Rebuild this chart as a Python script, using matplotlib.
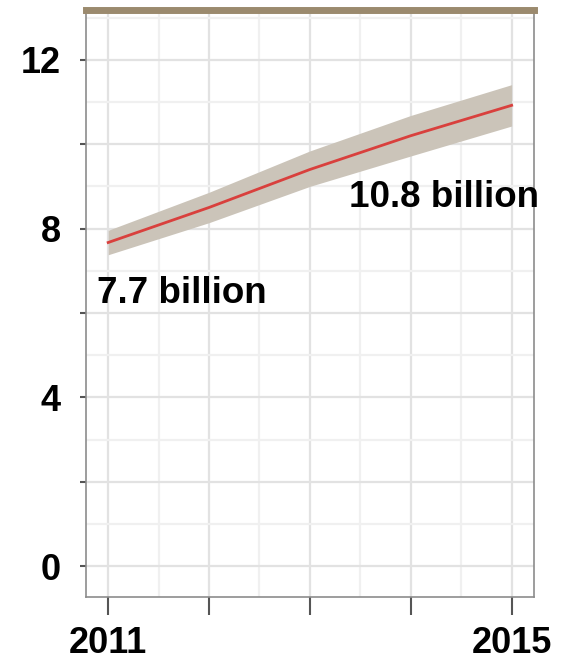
import matplotlib.pyplot as plt
import numpy as np

years = [2011, 2012, 2013, 2014, 2015]
pop_mid = [7.67, 8.5, 9.4, 10.2, 10.92]
pop_low = [7.38, 8.14, 9.0, 9.72, 10.43]
pop_high = [7.96, 8.86, 9.84, 10.68, 11.41]

labels = [(2010.89, 6.47, "7.7 billion"), (2013.39, 8.74, "10.8 billion")]

plt.rcParams['font.family'] = ['Liberation Sans', 'DejaVu Sans']
fig = plt.figure(figsize=(5.64, 6.63), dpi=100)
ax = fig.add_axes([0.1525, 0.0995, 0.794, 0.8855])

ax.fill_between(years, pop_low, pop_high, color="#cbc4b9", lw=0, zorder=2)
ax.plot(years, pop_mid, color="#d9403d", lw=2, zorder=3)

for x, y, t in labels:
    ax.text(x, y, t, ha="left", va="center", fontsize=26.5, fontweight="bold",
            clip_on=False, zorder=4)

ax.set_xlim(2010.78, 2015.22)
ax.set_ylim(-0.73, 13.18)

# grid: light lines each half year / each unit, a bit darker on the main ones
for v in np.arange(2011, 2015.01, 0.5):
    c = "#e2e2e2" if v == int(v) else "#f0f0f0"
    ax.axvline(v, color=c, lw=1.6, zorder=1)
for v in range(0, 14):
    c = "#e2e2e2" if v % 2 == 0 else "#f0f0f0"
    ax.axhline(v, color=c, lw=1.6, zorder=1)

ax.set_xticks(years)
ax.set_xticklabels(["2011", "", "", "", "2015"])
ax.set_yticks(range(0, 13, 2))
ax.set_yticklabels(["0", "", "4", "", "8", "", "12"])
ax.tick_params(axis="x", length=13, width=1.5, color="#555555", pad=8,
               labelsize=26, direction="out")
ax.tick_params(axis="y", length=4, width=1.5, color="#555555", pad=14,
               labelsize=26)
for lab in ax.get_xticklabels() + ax.get_yticklabels():
    lab.set_fontweight("bold")

for s in ["left", "right", "bottom"]:
    ax.spines[s].set_color("#8c8c8c")
    ax.spines[s].set_linewidth(1.2)
ax.spines["top"].set_color("#9b8a6e")
ax.spines["top"].set_linewidth(5)

fig.savefig("out.png", dpi=100)
